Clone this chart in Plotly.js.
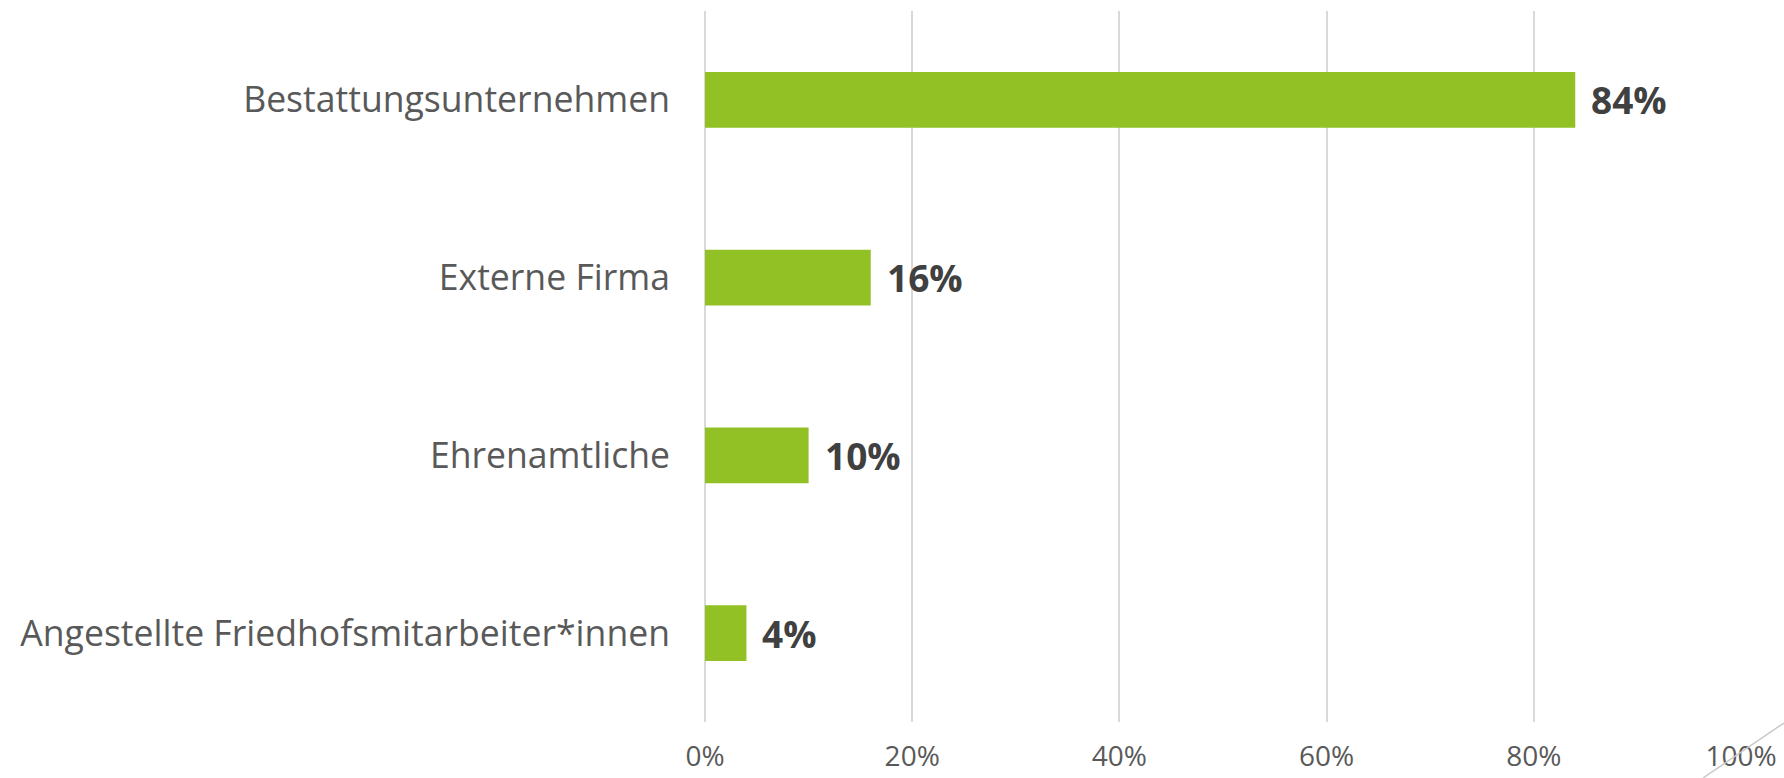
<!DOCTYPE html>
<html><head><meta charset="utf-8">
<script src="https://cdn.plot.ly/plotly-3.0.1.min.js"></script>
<style>html,body{margin:0;padding:0;background:#fff}#chart{width:1784px;height:778px}</style>
</head><body><div id="chart"></div>
<script>
const categories = ["Angestellte Friedhofsmitarbeiter*innen", "Ehrenamtliche", "Externe Firma", "Bestattungsunternehmen"];
const values = [4, 10, 16, 84];
const tickVals = [0, 20, 40, 60, 80, 100];
const tickLabels = ["0%", "20%", "40%", "60%", "80%", "100%"];

const trace = {
  type: 'bar', orientation: 'h',
  x: values, y: categories,
  marker: {color: '#92c125'},
  hoverinfo: 'skip'
};
const annotations = values.map((v, i) => ({
  x: v, y: categories[i], xref: 'x', yref: 'y',
  text: '<b>' + v + '%</b>', showarrow: false, xanchor: 'left', xshift: 14,
  font: {family: 'Open Sans, sans-serif', size: 37, color: '#404040'}
}));
const layout = {
  width: 1784, height: 778,
  margin: {l: 705, r: 43, t: 11, b: 56},
  paper_bgcolor: '#ffffff', plot_bgcolor: '#ffffff',
  showlegend: false,
  bargap: 0.685,
  xaxis: {
    range: [0, 100], tickvals: tickVals, ticktext: tickLabels,
    showgrid: true, gridcolor: '#d9d9d9', gridwidth: 2,
    zeroline: true, zerolinecolor: '#d9d9d9', zerolinewidth: 2,
    showline: false, ticks: '',
    ticklabelstandoff: 15,
    tickfont: {family: 'Open Sans, sans-serif', size: 28, color: '#595959'},
    fixedrange: true
  },
  yaxis: {
    categoryorder: 'array', categoryarray: categories,
    showgrid: false, zeroline: false, showline: false, ticks: '',
    ticklabelstandoff: 34,
    tickfont: {family: 'Open Sans, sans-serif', size: 35.6, color: '#595959'},
    fixedrange: true
  },
  annotations: annotations,
  shapes: [{
    type: 'line', xref: 'paper', yref: 'paper',
    x0: (1703 - 705) / 1036, y0: (722 - 778) / 711,
    x1: (1784 - 705) / 1036, y1: (722 - 723) / 711,
    line: {color: '#c8c8c8', width: 1.5}
  }]
};
Plotly.newPlot('chart', [trace], layout, {displayModeBar: false, staticPlot: true});
</script></body></html>
